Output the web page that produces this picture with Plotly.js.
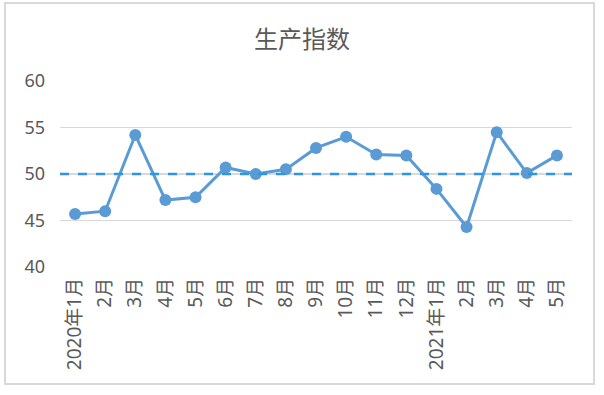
<!DOCTYPE html>
<html>
<head>
<meta charset="utf-8">
<script src="https://cdn.plot.ly/plotly-3.0.1.min.js"></script>
<style>html,body{margin:0;padding:0;background:#fff;}#chart{width:604px;height:395px;}</style>
</head>
<body>
<div id="chart"></div>
<script>
const months = ["2020年1月","2月","3月","4月","5月","6月","7月","8月","9月","10月","11月","12月","2021年1月","2月","3月","4月","5月"];
const productionIndex = [45.7,46.0,54.2,47.2,47.5,50.7,50.0,50.5,52.8,54.0,52.1,52.0,48.4,44.3,54.5,50.1,52.0];
const referenceLevel = 50;
const yTicks = [40,45,50,55,60];
const chartTitle = "生产指数";

const xIdx = months.map((m,i)=>i);
const font = "Noto Sans, Noto Sans CJK SC, sans-serif";

const trace = {
  x: xIdx,
  y: productionIndex,
  type: "scatter",
  mode: "lines+markers",
  line: {color: "#5b9bd5", width: 3},
  marker: {color: "#5b9bd5", size: 12},
  hoverinfo: "skip"
};

const layout = {
  width: 604, height: 395,
  margin: {l: 60, r: 32, t: 81, b: 128},
  paper_bgcolor: "#ffffff",
  plot_bgcolor: "#ffffff",
  showlegend: false,
  title: {text: chartTitle, x: 0.5, xref: "container", y: 1 - 40/395, yref: "container", yanchor: "middle",
          font: {family: font, size: 24, color: "#595959"}},
  xaxis: {
    range: [-0.5, months.length - 0.5],
    tickmode: "array", tickvals: xIdx, ticktext: months,
    tickangle: -90, showgrid: false, zeroline: false, showline: false,
    ticks: "", ticklabelstandoff: 6,
    tickfont: {family: font, size: 19, color: "#595959"}
  },
  yaxis: {
    range: [40, 60], tickmode: "array", tickvals: yTicks,
    showgrid: true, gridcolor: "#d9d9d9", gridwidth: 1.5,
    zeroline: false, showline: false, ticks: "",
    ticklabelstandoff: 14,
    tickfont: {family: font, size: 18, color: "#595959"}
  },
  shapes: [
    {type: "line", xref: "paper", yref: "y", x0: 0, x1: 1, y0: referenceLevel, y1: referenceLevel,
     line: {color: "#2e95e0", width: 2.5, dash: "dash"}, layer: "above"},
    {type: "rect", xref: "paper", yref: "paper",
     x0: (5-60)/512, x1: (594-60)/512, y0: (267-384)/186, y1: (267-3)/186,
     line: {color: "#d9d9d9", width: 2}, fillcolor: "rgba(0,0,0,0)"}
  ]
};

Plotly.newPlot("chart", [trace], layout, {staticPlot: true, displayModeBar: false});
</script>
</body>
</html>
